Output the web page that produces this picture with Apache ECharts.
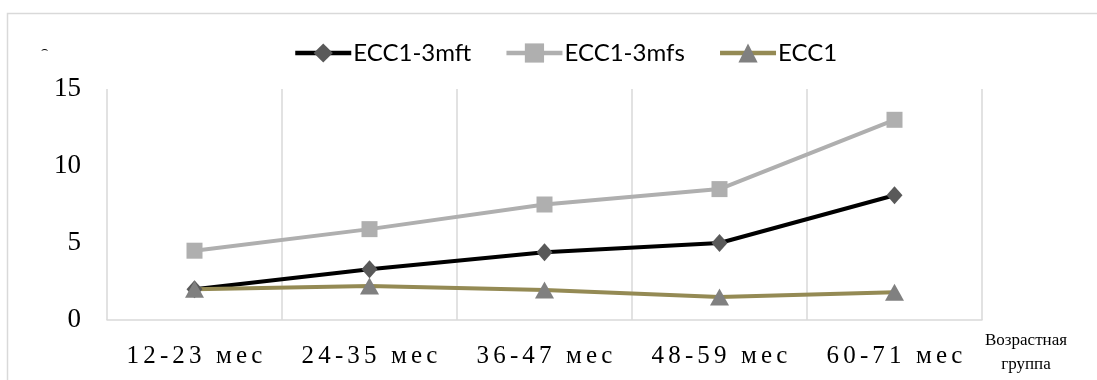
<!DOCTYPE html>
<html>
<head>
<meta charset="utf-8">
<script src="https://cdn.jsdelivr.net/npm/echarts@6/dist/echarts.min.js"></script>
<style>
html,body{margin:0;padding:0;background:#fff;}
#chart{width:1097px;height:380px;}
</style>
</head>
<body>
<div id="chart"></div>
<script>
const categories = ['12-23 мес', '24-35 мес', '36-47 мес', '48-59 мес', '60-71 мес'];
const seriesNames = ['ECC1-3mft', 'ECC1-3mfs', 'ECC1'];
const mft = [2.0, 3.3, 4.4, 5.0, 8.1];
const mfs = [4.5, 5.9, 7.5, 8.5, 13.0];
const ecc1 = [2.0, 2.2, 1.95, 1.5, 1.8];
const yTicks = { min: 0, max: 15, interval: 5 };
const axisTitle = 'Возрастная\nгруппа';

const chart = echarts.init(document.getElementById('chart'), null, { renderer: 'canvas' });
const spaced = s => s.split('').join('\u2006');
chart.setOption({
  animation: false,
  backgroundColor: '#fff',
  grid: { left: 107, right: 115, top: 89, bottom: 60, containLabel: false },
  legend: {
    top: 41,
    left: 293,
    padding: 0,
    itemWidth: 56,
    itemHeight: 24,
    itemGap: 33,
    data: seriesNames,
    lineStyle: { width: 4.5 },
    textStyle: { fontFamily: 'Lato', fontSize: 24, color: '#000', padding: [0, 0, 0, -3] }
  },
  xAxis: {
    type: 'category',
    data: categories,
    boundaryGap: true,
    axisLine: { lineStyle: { color: '#d9d9d9', width: 1.5 } },
    axisTick: { show: false, interval: 0 },
    splitLine: { show: true, interval: 0, lineStyle: { color: '#d9d9d9', width: 1.5 } },
    axisLabel: {
      interval: 0,
      margin: 24,
      fontFamily: 'Liberation Serif',
      fontSize: 25,
      color: '#000',
      formatter: v => spaced(v)
    }
  },
  yAxis: {
    type: 'value',
    min: yTicks.min,
    max: yTicks.max,
    interval: yTicks.interval,
    axisLine: { show: false },
    axisTick: { show: false },
    splitLine: { show: false },
    axisLabel: { margin: 26, fontFamily: 'Liberation Serif', fontSize: 27, color: '#000' }
  },
  series: [
    {
      name: seriesNames[0], type: 'line', data: mft,
      symbol: 'diamond', symbolSize: [16, 18],
      lineStyle: { color: '#000000', width: 4 },
      itemStyle: { color: '#595959' }
    },
    {
      name: seriesNames[1], type: 'line', data: mfs,
      symbol: 'rect', symbolSize: 16,
      lineStyle: { color: '#afafaf', width: 4 },
      itemStyle: { color: '#afafaf' }
    },
    {
      name: seriesNames[2], type: 'line', data: ecc1,
      symbol: 'triangle', symbolSize: [19, 17],
      lineStyle: { color: '#948a54', width: 4 },
      itemStyle: { color: '#808080' }
    }
  ],
  graphic: [
    { type: 'rect', shape: { x: 7.5, y: 13.5, width: 1200, height: 400 },
      style: { fill: 'none', stroke: '#d9d9d9', lineWidth: 1.5 }, silent: true, z: -1 },
    { type: 'text', left: 41, top: 45,
      style: { text: '⌢', fontSize: 11, fill: '#000', fontFamily: 'DejaVu Sans' } },
    { type: 'text', x: 1026, y: 353,
      style: { text: axisTitle, fontFamily: 'Liberation Serif', fontSize: 17, fill: '#000',
               align: 'center', verticalAlign: 'middle', lineHeight: 24 } }
  ]
});
</script>
</body>
</html>
